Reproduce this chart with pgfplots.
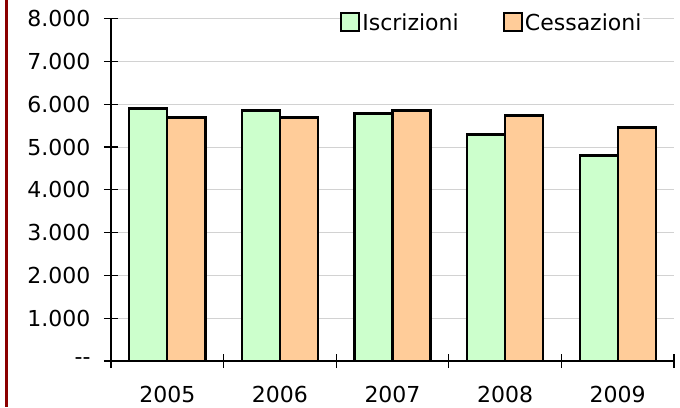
\documentclass[border=0pt]{standalone}
\usepackage{fontspec}
\setmainfont{DejaVu Sans}
\usepackage{pgfplots}
\pgfplotsset{compat=1.18}
\definecolor{iscr}{HTML}{CCFFCC}
\definecolor{cess}{HTML}{FFCC99}
\definecolor{redline}{HTML}{8B0000}
\begin{document}
\begin{tikzpicture}[x=1pt,y=1pt]
\path[use as bounding box] (0,0) rectangle (680,407);
\fill[redline] (4.5,0) rectangle (7.5,407);
\begin{axis}[
  at={(111pt,46pt)}, anchor=south west,
  scale only axis, width=563pt, height=342.3pt,
  xmin=-0.5, xmax=4.5, ymin=0, ymax=8000,
  axis lines*=left,
  axis line style={line width=1.2pt, black},
  ybar=0pt, bar width=38pt,
  xtick={-0.5,0.5,...,4.5}, x tick label as interval,
  xticklabels={2005,2006,2007,2008,2009},
  ytick={0,1000,...,8000},
  yticklabels={-{}-,1.000,2.000,3.000,4.000,5.000,6.000,7.000,8.000},
  tick align=center, major tick length=14pt,
  tick style={line width=1.2pt, black},
  ymajorgrids, grid style={line width=0.8pt, gray!35},
  ticklabel style={font=\fontsize{22}{26}\selectfont},
  xticklabel style={inner sep=0pt, yshift=-18pt},
  yticklabel style={xshift=-10pt},
  legend columns=2,
  legend style={draw=none, fill=white, at={(0.4067,0.987)}, anchor=west,
    font=\fontsize{22}{26}\selectfont, inner sep=0pt,
    /tikz/every even column/.append style={column sep=42pt}},
  legend image code/.code={\draw[#1,line width=2.2pt] (0pt,-8pt) rectangle (18pt,10pt);},
]
\addplot[fill=iscr, draw=black, line width=2.4pt] coordinates {(0,5897) (1,5857) (2,5787) (3,5297) (4,4806)};
\addplot[fill=cess, draw=black, line width=2.4pt] coordinates {(0,5693) (1,5693) (2,5857) (3,5740) (4,5460)};
\legend{Iscrizioni,Cessazioni}
\end{axis}
\end{tikzpicture}
\end{document}
